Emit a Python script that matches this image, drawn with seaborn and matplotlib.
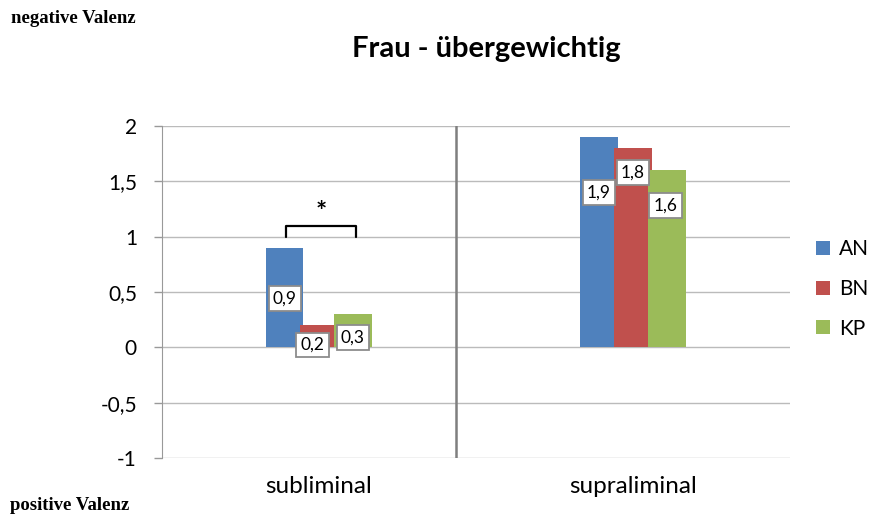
import matplotlib
matplotlib.use("Agg")
import matplotlib.pyplot as plt
import seaborn as sns
import pandas as pd
from matplotlib.patches import Patch

categories = ["subliminal", "supraliminal"]
groups = ["AN", "BN", "KP"]
values_an = [0.9, 1.9]
values_bn = [0.2, 1.8]
values_kp = [0.3, 1.6]
value_labels = {"AN": ["0,9", "1,9"], "BN": ["0,2", "1,8"], "KP": ["0,3", "1,6"]}
yticks = [-1, -0.5, 0, 0.5, 1, 1.5, 2]
ytick_labels = ["-1", "-0,5", "0", "0,5", "1", "1,5", "2"]
colors = ["#4F81BD", "#C0504D", "#9BBB59"]

# where Excel put the label boxes (data units)
label_y = {"AN": [0.44, 1.40], "BN": [0.02, 1.58], "KP": [0.09, 1.28]}
label_dx = {"AN": [0.0, 0.0], "BN": [-0.02, 0.0], "KP": [0.0, -0.005]}

rows = []
for g, vals in zip(groups, [values_an, values_bn, values_kp]):
    for c, v in zip(categories, vals):
        rows.append({"Bedingung": c, "Gruppe": g, "Wert": v})
df = pd.DataFrame(rows)

sns.set_style("white")
plt.rcParams["font.family"] = ["Lato", "DejaVu Sans"]
plt.rcParams["text.color"] = "black"
plt.rcParams["xtick.color"] = "black"
plt.rcParams["ytick.color"] = "black"

fig = plt.figure(figsize=(8.77, 5.16), dpi=100)
ax = fig.add_axes([0.1847, 0.1124, 0.7161, 0.6434])

sns.barplot(data=df, x="Bedingung", y="Wert", hue="Gruppe", order=categories,
            hue_order=groups, palette=colors, width=0.325, saturation=1,
            errorbar=None, ax=ax, legend=False, zorder=3)

# slightly wider bars so that they overlap like in Excel
bar_w = 0.118
for p in ax.patches:
    cx = p.get_x() + p.get_width() / 2
    p.set_width(bar_w)
    p.set_x(cx - bar_w / 2)
    p.set_linewidth(0)

ax.set_xlim(-0.5, 1.5)
ax.set_ylim(-1, 2)
ax.set_yticks(yticks)
ax.set_yticklabels(ytick_labels, fontsize=15)
ax.set_xticks(range(len(categories)))
ax.set_xticklabels(categories, fontsize=17.5)
ax.set_xlabel("")
ax.set_ylabel("")
ax.tick_params(axis="x", length=0, pad=13)
ax.tick_params(axis="y", length=6, color="#999999", labelcolor="black", width=1,
               direction="out", pad=12, left=True)
ax.grid(axis="y", color="#BBBBBB", lw=1, zorder=0)
for s in ["top", "right", "bottom"]:
    ax.spines[s].set_visible(False)
ax.spines["left"].set_color("#999999")

# separator between the two conditions
ax.axvline(0.436, color="#7F7F7F", lw=1.8, zorder=2)

# value labels
offsets = [-0.1083, 0.0, 0.1083]
for gi, g in enumerate(groups):
    for ci in range(len(categories)):
        ax.text(ci + offsets[gi] + label_dx[g][ci], label_y[g][ci], value_labels[g][ci],
                ha="center", va="center", fontsize=12.5, zorder=5,
                bbox=dict(boxstyle="square,pad=0.25", fc="white", ec="#8C8C8C", lw=1.3))

# significance bracket
ax.plot([-0.105, -0.105, 0.118, 0.118], [1.0, 1.1, 1.1, 1.0], color="black", lw=1.6, zorder=4)
ax.text(0.007, 1.11, "*", ha="center", va="bottom", fontsize=19, fontweight="bold")

# legend
handles = [Patch(facecolor=c, edgecolor="none", label=g) for c, g in zip(colors, groups)]
fig.legend(handles=handles, loc="center left", bbox_to_anchor=(0.931, 0.44), frameon=False,
           fontsize=15, handlelength=0.65, handleheight=0.65, handletextpad=0.45,
           labelspacing=0.95, borderpad=0, borderaxespad=0)

fig.text(0.555, 0.905, "Frau - übergewichtig", ha="center", va="center",
         fontsize=21, fontweight="bold")
fig.text(0.013, 0.964, "negative Valenz", ha="left", va="center", fontsize=13.5,
         fontweight="bold", family="Liberation Serif")
fig.text(0.011, 0.021, "positive Valenz", ha="left", va="center", fontsize=13.5,
         fontweight="bold", family="Liberation Serif")

fig.savefig("out.png", dpi=100)
